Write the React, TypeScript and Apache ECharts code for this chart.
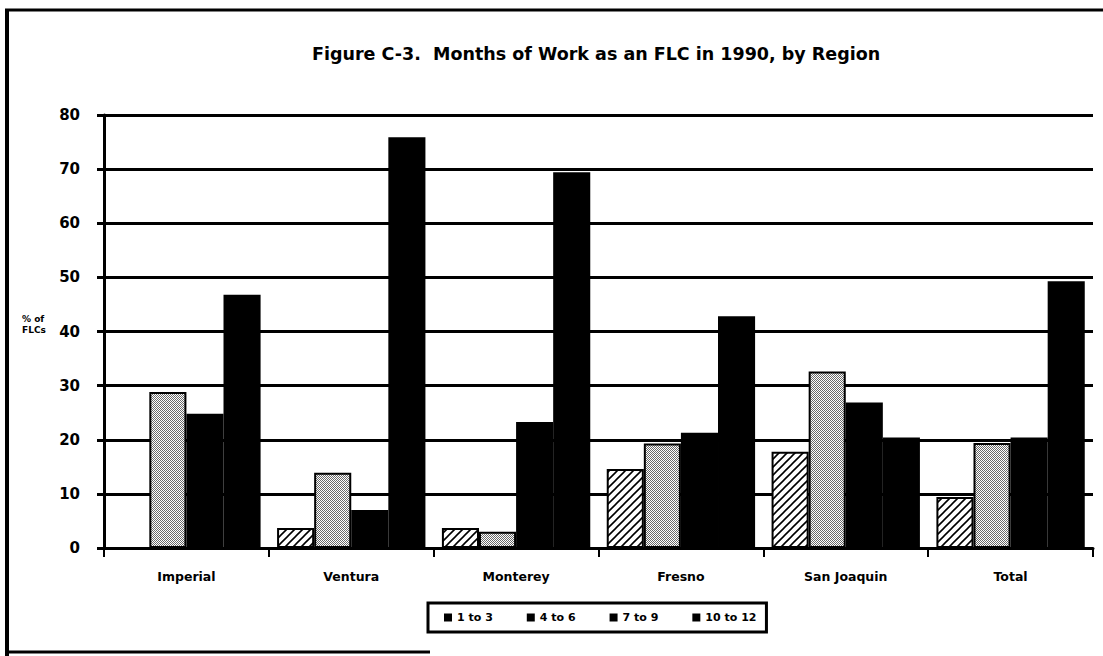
import React, { useEffect, useRef } from "react";
import * as echarts from "echarts";

const categories = ["Imperial", "Ventura", "Monterey", "Fresno", "San Joaquin", "Total"];
const seriesNames = ["1 to 3", "4 to 6", "7 to 9", "10 to 12"];
const months1to3 = [0, 3.7, 3.7, 14.6, 17.8, 9.4];
const months4to6 = [28.8, 13.9, 3, 19.3, 32.6, 19.4];
const months7to9 = [24.8, 7, 23.3, 21.3, 26.9, 20.4];
const months10to12 = [46.8, 75.9, 69.4, 42.8, 20.4, 49.3];
const yMin = 0;
const yMax = 80;
const yStep = 10;

const titleText = "Figure C-3.  Months of Work as an FLC in 1990, by Region";
const yName = "% of\nFLCs";

function makeHatch() {
  const c = document.createElement("canvas");
  c.width = 8;
  c.height = 8;
  const ctx = c.getContext("2d")!;
  ctx.fillStyle = "#fff";
  ctx.fillRect(0, 0, 8, 8);
  ctx.strokeStyle = "#000";
  ctx.lineWidth = 1.6;
  ctx.beginPath();
  ctx.moveTo(-4, 4);
  ctx.lineTo(4, -4);
  ctx.moveTo(0, 8);
  ctx.lineTo(8, 0);
  ctx.moveTo(4, 12);
  ctx.lineTo(12, 4);
  ctx.stroke();
  return c;
}

function makeStipple() {
  const c = document.createElement("canvas");
  c.width = 4;
  c.height = 4;
  const ctx = c.getContext("2d")!;
  ctx.fillStyle = "#fff";
  ctx.fillRect(0, 0, 4, 4);
  ctx.fillStyle = "#6a6a6a";
  for (let y = 0; y < 4; y++) {
    for (let x = 0; x < 4; x++) {
      if ((x + y) % 2 === 0) ctx.fillRect(x, y, 1, 1);
    }
  }
  return c;
}

export default function App() {
  const ref = useRef<HTMLDivElement>(null);
  useEffect(() => {
    if (!ref.current) return;
    const chart = echarts.init(ref.current, undefined, { renderer: "svg" });
    const hatch = makeHatch();
    const stipple = makeStipple();
    const hatchFill: any = { image: hatch, repeat: "repeat", imageWidth: 8, imageHeight: 8 };
    const stippleFill: any = { image: stipple, repeat: "repeat", imageWidth: 4, imageHeight: 4 };
    const font = "DejaVu Sans";
    const fills = [hatchFill, stippleFill, "#000", "#000"];
    const values = [months1to3, months4to6, months7to9, months10to12];
    chart.setOption({
      animation: false,
      backgroundColor: "#fff",
      title: {
        text: titleText,
        left: 307,
        top: 40,
        textStyle: { fontFamily: font, fontSize: 17.5, fontWeight: "bold", color: "#000" },
      },
      legend: {
        left: 428,
        top: 603,
        orient: "horizontal",
        padding: [9, 10, 9, 16],
        borderColor: "#000",
        borderWidth: 3,
        itemWidth: 8,
        itemHeight: 8,
        itemGap: 34,
        icon: "rect",
        textStyle: { fontFamily: font, fontSize: 11, fontWeight: "bold", color: "#000" },
        data: seriesNames.map((n) => ({ name: n, itemStyle: { color: "#000", borderWidth: 0 } })),
      },
      grid: { left: 104, right: 10, top: 115, bottom: 108, containLabel: false },
      xAxis: {
        type: "category",
        data: categories,
        boundaryGap: true,
        axisLine: { show: true, lineStyle: { color: "#000", width: 3 } },
        axisTick: { show: true, length: 9, lineStyle: { color: "#000", width: 2 } },
        axisLabel: {
          margin: 22,
          fontFamily: font,
          fontSize: 12.5,
          fontWeight: "bold",
          color: "#000",
        },
        splitLine: { show: false },
      },
      yAxis: {
        type: "value",
        min: yMin,
        max: yMax,
        interval: yStep,
        axisLine: { show: true, lineStyle: { color: "#000", width: 3 } },
        axisTick: { show: true, length: 7, lineStyle: { color: "#000", width: 3 } },
        axisLabel: {
          margin: 24,
          fontFamily: font,
          fontSize: 15,
          fontWeight: "bold",
          color: "#000",
        },
        splitLine: { show: true, lineStyle: { color: "#000", width: 3 } },
      },
      graphic: [
        {
          type: "text",
          left: 22,
          top: 313,
          style: {
            text: yName,
            fontFamily: font,
            fontSize: 9,
            fontWeight: "bold",
            fill: "#000",
            lineHeight: 11,
            textAlign: "left",
          },
        },
        { type: "line", shape: { x1: 5, y1: 10, x2: 1103, y2: 10 }, style: { stroke: "#000", lineWidth: 3 } },
        { type: "line", shape: { x1: 7, y1: 9, x2: 7, y2: 656 }, style: { stroke: "#000", lineWidth: 4 } },
        { type: "line", shape: { x1: 5, y1: 652, x2: 430, y2: 652 }, style: { stroke: "#000", lineWidth: 3 } },
      ],
      series: seriesNames.map((name, i) => ({
        name,
        type: "bar",
        data: values[i],
        barGap: "0%",
        barCategoryGap: "10%",
        itemStyle: {
          color: fills[i],
          borderColor: "#000",
          borderWidth: i < 2 ? 2 : 0,
        },
      })),
    });
    return () => chart.dispose();
  }, []);
  return (
    <div
      ref={ref}
      style={{ position: "fixed", left: 0, top: 0, width: 1103, height: 656 }}
    />
  );
}
